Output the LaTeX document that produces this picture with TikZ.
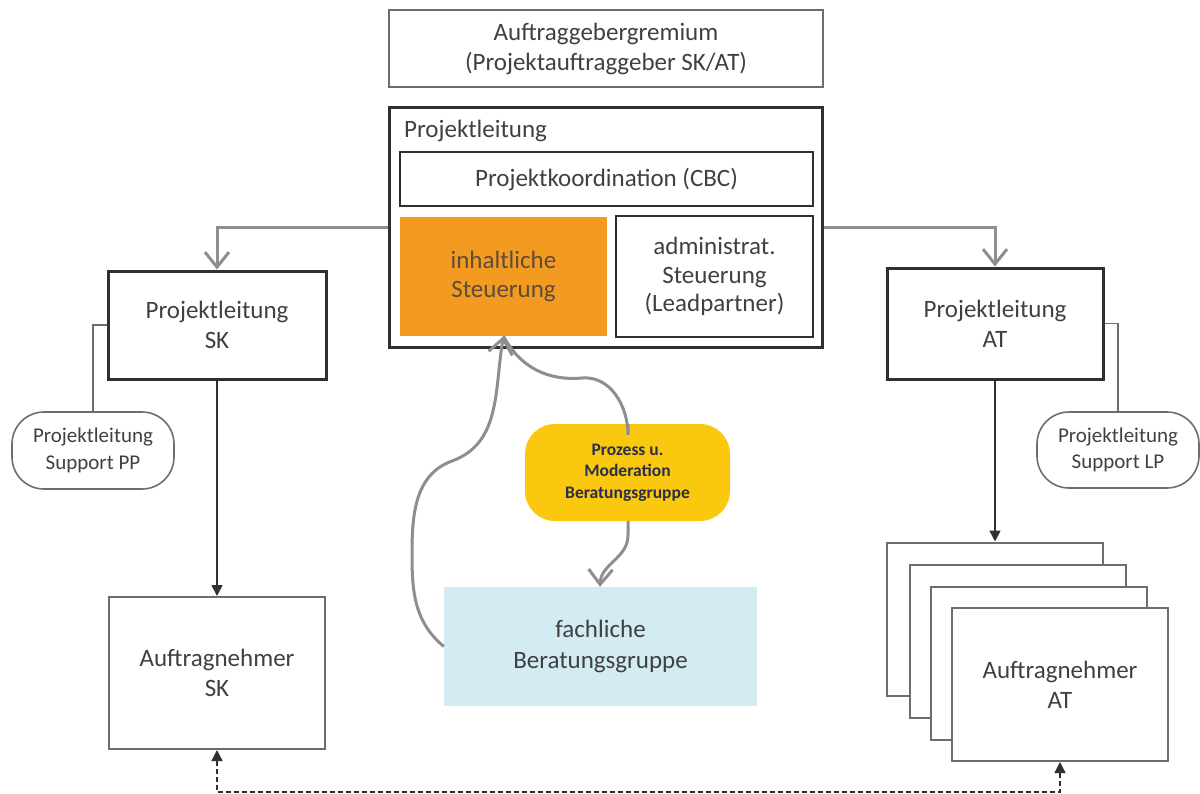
\documentclass[tikz,border=0pt]{standalone}
\usepackage{fontspec}
\setmainfont{Carlito}
\usetikzlibrary{arrows.meta}
\definecolor{txt}{HTML}{404040}
\definecolor{dark}{HTML}{303030}
\definecolor{midgray}{HTML}{6E6E6E}
\definecolor{conngray}{HTML}{8E8E8E}
\definecolor{orangefill}{HTML}{F39A21}
\definecolor{orangetxt}{HTML}{5E4B38}
\definecolor{yellowfill}{HTML}{FAC80F}
\definecolor{navytxt}{HTML}{2A2E48}
\definecolor{bluefill}{HTML}{D3EBF3}
\begin{document}
\begin{tikzpicture}[x=1pt,y=-1pt,
  basetext/.style={text=txt, align=center, font=\fontsize{25}{30}\selectfont, inner sep=0pt},
  thinbox/.style={basetext, draw=midgray, line width=2pt},
  thickbox/.style={basetext, draw=dark, line width=3pt},
  midbox/.style={basetext, draw=dark, line width=2.5pt},
  stackbox/.style={basetext, draw=midgray, line width=2pt, fill=white, minimum width=216pt, minimum height=153pt},
  supportbox/.style={basetext, draw=midgray, line width=1.6pt, rounded corners=32pt, font=\fontsize{21}{26.5}\selectfont},
  grayconn/.style={draw=conngray, line width=3pt},
  grayarrow/.style={grayconn, -{Straight Barb[length=15pt,width=24pt]}},
  blackarrow/.style={draw=dark, line width=1.6pt, -{Triangle[length=11pt,width=11pt]}},
  thinconn/.style={draw=midgray, line width=1.6pt}
]
\useasboundingbox (0,0) rectangle (1200,793);

% top
\node[thinbox, minimum width=434pt, minimum height=77pt] (gremium) at (606,48.5)
  {Auftraggebergremium\\(Projektauftraggeber SK/AT)};

% Projektleitung main box
\node[thickbox, minimum width=433pt, minimum height=240pt] (pl) at (606,227.5) {};
\node[basetext, anchor=west] (pllabel) at (404,131) {Projektleitung};
\node[midbox, minimum width=413pt, minimum height=54pt] (koord) at (606.5,179) {Projektkoordination (CBC)};
\node[basetext, fill=orangefill, text=orangetxt, minimum width=207pt, minimum height=119pt,
  font=\fontsize{25}{29.5}\selectfont] (inhalt) at (503.5,276.5) {inhaltliche\\Steuerung};
\node[midbox, minimum width=197pt, minimum height=121pt, font=\fontsize{25}{28.5}\selectfont] (admin) at (714.5,276.5)
  {administrat.\\Steuerung\\(Leadpartner)};

% Projektleitung SK / AT
\node[thickbox, minimum width=218pt, minimum height=108pt] (plsk) at (217,325) {Projektleitung\\SK};
\node[thickbox, minimum width=216pt, minimum height=111pt] (plat) at (995,323.5) {Projektleitung\\AT};

% support boxes
\node[supportbox, minimum width=162pt, minimum height=77pt] (supp) at (93,450.5) {Projektleitung\\Support PP};
\node[supportbox, minimum width=162pt, minimum height=76pt] (supl) at (1118,450) {Projektleitung\\Support LP};

% Auftragnehmer SK
\node[thinbox, minimum width=216pt, minimum height=152pt] (ansk) at (217,673) {Auftragnehmer\\SK};

% Auftragnehmer AT stack
\node[stackbox] (an1) at (995,619) {};
\node[stackbox] (an2) at (1017.5,641) {};
\node[stackbox] (an3) at (1038.5,663) {};
\node[stackbox] (an4) at (1060,684.5) {Auftragnehmer\\AT};

% fachliche Beratungsgruppe
\node[basetext, fill=bluefill, minimum width=313pt, minimum height=119pt, font=\fontsize{25}{31}\selectfont]
  (fach) at (600.5,646.5) {fachliche\\Beratungsgruppe};

% Prozess / Moderation
\node[basetext, fill=yellowfill, text=navytxt, rounded corners=30pt, minimum width=205pt, minimum height=97pt,
  font=\fontsize{17.5}{21.5}\bfseries] (mod) at (627.5,472.5) {Prozess u.\\Moderation\\Beratungsgruppe};

% connectors
\draw[grayarrow] (pl.west) -| (plsk.north);
\draw[grayarrow] (pl.east) -| (plat.north);
\draw[thinconn] (plsk.west) -| (supp.north);
\draw[thinconn] (plat.east) -| (supl.north);
\draw[blackarrow] (plsk.south) -- (ansk.north);
\draw[blackarrow] (plat.south) -- (an1.north);
\draw[draw=dark, line width=1.4pt, dash pattern=on 5pt off 3pt,
  {Triangle[length=11pt,width=11pt]}-{Triangle[length=11pt,width=11pt]}]
  (ansk.south) -- ++(0,42) -| (an4.south);

% curved feedback arrows
\coordinate (tip) at (inhalt.south);
\draw[grayarrow] (fach.west) to[out=140,in=-90] (412,555) to[out=90,in=200] (452,461) to[out=20,in=-100] (tip);
\draw[grayconn] ([xshift=0.5pt]mod.north) -- ++(0,11) to[out=90,in=5] (582,378) to[out=185,in=-62] (tip);
\draw[grayarrow] ([xshift=0.5pt]mod.south) -- ++(0,14) to[out=-90,in=88] ([xshift=-0.5pt]fach.north);
\end{tikzpicture}
\end{document}
